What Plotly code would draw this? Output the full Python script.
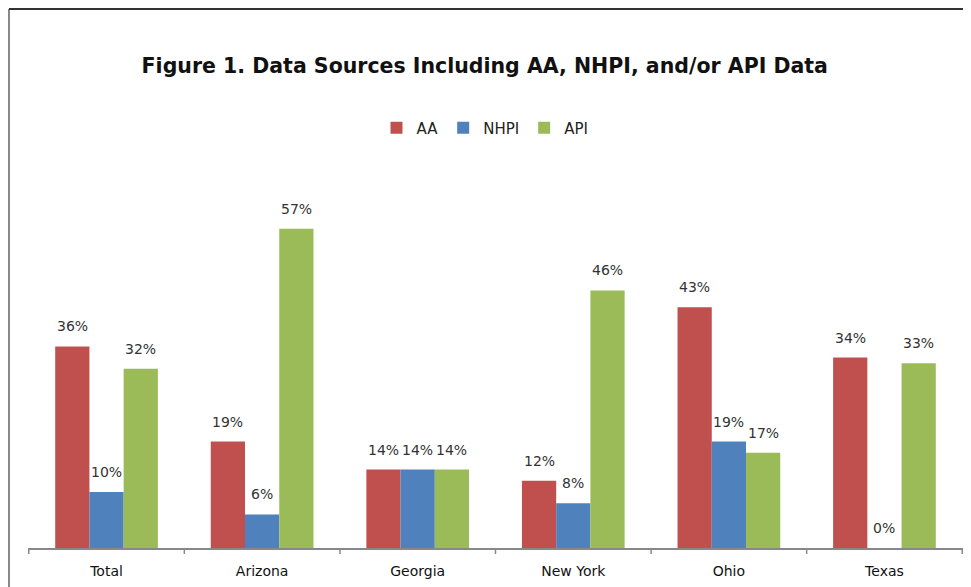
import plotly.graph_objects as go

categories = ["Total", "Arizona", "Georgia", "New York", "Ohio", "Texas"]
aa = [36, 19, 14, 12, 43, 34]
nhpi = [10, 6, 14, 8, 19, 0]
api = [32, 57, 14, 46, 17, 33]

series = [("AA", aa, "#C0504D"), ("NHPI", nhpi, "#4F81BD"), ("API", api, "#9BBB59")]

FONT = "'DejaVu Sans', sans-serif"

# plot area (in figure pixels; page adds an 8px body margin)
L, R, T, B = 20, 16, 204, 47
W, H = 971, 587
PW = W - L - R
PH = H - T - B
BARW = PW / len(categories) * (1 - 0.34) / 3

fig = go.Figure()
for name, vals, color in series:
    fig.add_trace(go.Bar(
        name=name, x=categories, y=vals, marker_color=color, marker_line_width=0,
    ))

# value labels
for i, (name, vals, color) in enumerate(series):
    for cat, v in zip(categories, vals):
        fig.add_annotation(x=cat, y=v, xref="x", yref="y", text=f"{v}%",
                           showarrow=False, xshift=(i - 1) * BARW, yshift=20,
                           yanchor="middle", xanchor="center",
                           font=dict(size=14, color="#333", family=FONT))

fig.update_layout(
    width=W, height=H,
    paper_bgcolor="white", plot_bgcolor="white",
    margin=dict(l=L, r=R, t=T, b=B, autoexpand=False),
    barmode="group", bargap=0.34, bargroupgap=0,
    title=dict(text="<b>Figure 1. Data Sources Including AA, NHPI, and/or API Data</b>",
               x=0.491, xanchor="center", y=1 - 58 / H, yanchor="middle",
               font=dict(size=20.5, color="#111", family=FONT)),
    legend=dict(orientation="h", x=(477 - L) / PW, xanchor="center",
                y=(PH + T - 120) / PH, yanchor="middle",
                font=dict(size=15, color="#222", family=FONT),
                itemwidth=30, traceorder="normal"),
    xaxis=dict(showline=True, linecolor="#888", linewidth=1.5,
               ticks="outside", ticklen=9, tickcolor="rgba(0,0,0,0)",
               tickfont=dict(size=14, color="#111", family=FONT),
               showgrid=False, zeroline=False),
    yaxis=dict(range=[0, 60], visible=False, showgrid=False, zeroline=False),
    showlegend=True,
)

# tick marks between categories
for i in range(len(categories) + 1):
    fig.add_shape(type="line", xref="x", yref="y domain",
                  x0=i - 0.5, x1=i - 0.5, y0=0, y1=-6 / PH,
                  line=dict(color="#888", width=1.5))

# frame around chart
fig.add_shape(type="line", xref="paper", yref="paper",
              x0=-(L - 1) / PW, x1=-(L - 1) / PW, y0=-1, y1=(PH + T - 1) / PH,
              line=dict(color="#888", width=2))
fig.add_shape(type="line", xref="paper", yref="paper",
              x0=-(L - 1) / PW, x1=2, y0=(PH + T - 1) / PH, y1=(PH + T - 1) / PH,
              line=dict(color="#333", width=2))

fig.write_html("out.html")
